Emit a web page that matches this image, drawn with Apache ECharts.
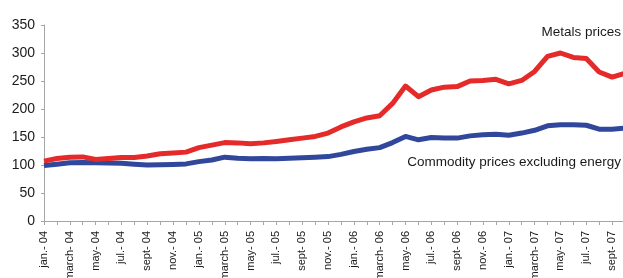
<!DOCTYPE html>
<html>
<head>
<meta charset="utf-8">
<script src="https://cdn.jsdelivr.net/npm/echarts@6/dist/echarts.min.js"></script>
<style>
  html, body { margin: 0; padding: 0; background: #fff; }
  #chart { width: 623px; height: 278px; }
</style>
</head>
<body>
<div id="chart"></div>
<script>
// months jan-04 .. oct-07
const months = [
  'jan.- 04', 'feb.- 04', 'march- 04', 'april- 04', 'may- 04', 'june- 04', 'jul.- 04', 'aug.- 04', 'sept- 04', 'oct.- 04', 'nov.- 04', 'dec.- 04',
  'jan.- 05', 'feb.- 05', 'march- 05', 'april- 05', 'may- 05', 'june- 05', 'jul.- 05', 'aug.- 05', 'sept- 05', 'oct.- 05', 'nov.- 05', 'dec.- 05',
  'jan.- 06', 'feb.- 06', 'march- 06', 'april- 06', 'may- 06', 'june- 06', 'jul.- 06', 'aug.- 06', 'sept- 06', 'oct.- 06', 'nov.- 06', 'dec.- 06',
  'jan.- 07', 'feb.- 07', 'march- 07', 'april- 07', 'may- 07', 'june- 07', 'jul.- 07', 'aug.- 07', 'sept- 07', 'oct.- 07'
]

const metals = [
  107, 111.5, 114, 114.5, 110, 111.5, 113.5, 113.5, 116, 120, 121.5, 123,
  131, 135.5, 140, 139.5, 138, 139.5, 142, 145, 148, 151, 157, 168,
  177, 184, 188, 210, 241, 222, 234, 239, 240, 250, 251, 253,
  245, 251, 267, 294, 300, 292, 290, 266, 257, 264
]

const commodities = [
  99, 101.5, 104, 104.5, 104, 103.5, 103, 101.5, 100, 100.5, 101, 102,
  106, 109, 114, 112, 111, 111.5, 111, 112, 113, 114, 115, 119,
  124, 128, 131, 140, 151, 145, 149, 148, 148, 152, 154, 155,
  153, 157, 162, 170, 172, 172, 171, 164, 164, 166
]

const yTicks = [0, 50, 100, 150, 200, 250, 300, 350]

const chart = echarts.init(document.getElementById('chart'), null, { renderer: 'canvas' })

const axisColor = '#a6a6a6'
const textColor = '#1a1a1a'

var option = {
  animation: false,
  backgroundColor: '#ffffff',
  grid: {
    left: 44,
    right: -2,
    top: 25,
    bottom: 57,
    containLabel: false,
    outerBoundsMode: 'none' // labels are allowed to run off the canvas
  },
  xAxis: {
    type: 'category',
    data: months,
    boundaryGap: false,
    axisLine: { show: true, lineStyle: { color: axisColor, width: 1 } },
    axisTick: { show: true, interval: 0, length: 4, lineStyle: { color: axisColor } },
    axisLabel: {
      interval: 1,
      rotate: 90,
      margin: 10,
      color: textColor,
      fontSize: 11,
      fontFamily: 'Liberation Sans'
    },
    splitLine: { show: false }
  },
  yAxis: {
    type: 'value',
    min: yTicks[0],
    max: yTicks[yTicks.length - 1],
    interval: 50,
    axisLine: { show: true, lineStyle: { color: axisColor, width: 1 } },
    axisTick: { show: true, length: 3, lineStyle: { color: axisColor } },
    axisLabel: {
      margin: 9,
      color: textColor,
      fontSize: 14,
      fontFamily: 'Liberation Sans'
    },
    splitLine: { show: false }
  },
  graphic: [
    {
      type: 'text',
      right: 2,
      top: 25,
      style: {
        text: 'Metals prices',
        fill: textColor,
        font: '13.5px "Liberation Sans"'
      }
    },
    {
      type: 'text',
      right: 2,
      top: 155,
      style: {
        text: 'Commodity prices excluding energy',
        fill: textColor,
        font: '13.5px "Liberation Sans"'
      }
    }
  ],
  series: [
    {
      name: 'Commodity prices excluding energy',
      type: 'line',
      data: commodities,
      showSymbol: false,
      smooth: false,
      lineStyle: { color: '#30479b', width: 5, join: 'round' }
    },
    {
      name: 'Metals prices',
      type: 'line',
      data: metals,
      showSymbol: false,
      smooth: false,
      lineStyle: { color: '#e52a2a', width: 5, join: 'round' }
    }
  ]
}

chart.setOption(option)
</script>
</body>
</html>
